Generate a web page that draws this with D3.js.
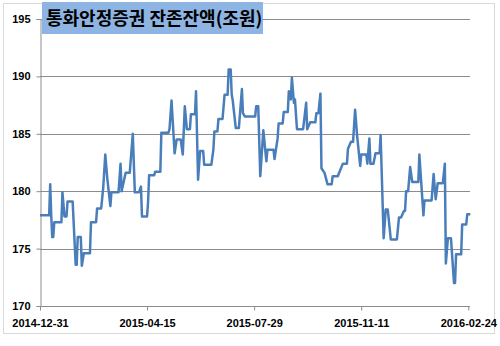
<!DOCTYPE html>
<html>
<head>
<meta charset="utf-8">
<script src="https://cdn.jsdelivr.net/npm/d3@7"></script>
<style>
  body { margin: 0; background: #fff; }
  svg { display: block; }
  .tick text { font-family: "Liberation Sans", Arial, sans-serif; font-weight: bold; font-size: 11px; fill: #000; }
</style>
</head>
<body>
<svg width="500" height="346"></svg>
<script>
// 통화안정증권 잔존잔액(조원) - days since 2014-12-31
const startDate = "2014-12-31";
const days = [0, 9, 10, 11, 12, 13, 14, 21, 22, 24, 26, 27, 32, 35, 36, 37, 40, 41, 43, 49,
    50, 55, 56, 60, 62, 64, 66, 69, 70, 77, 79, 80, 81, 84, 88, 91, 93, 97, 99, 100,
    105, 106, 107, 112, 113, 118, 119, 126, 127, 129, 132, 134, 138, 140, 142, 144, 147, 148, 152, 153,
    155, 157, 160, 161, 168, 170, 171, 174, 175, 179, 181, 184, 185, 187, 188, 189, 192, 195, 198, 199,
    201, 211, 212, 214, 216, 219, 222, 223, 229, 230, 233, 234, 238, 239, 243, 244, 246, 247, 249, 250,
    252, 258, 261, 262, 265, 270, 271, 273, 275, 276, 279, 282, 286, 287, 292, 297, 301, 302, 305, 307,
    309, 311, 314, 315, 320, 321, 323, 324, 327, 329, 333, 334, 337, 339, 341, 344, 350, 352, 354, 357,
    358, 359, 361, 363, 365, 371, 372, 376, 377, 384, 386, 388, 390, 395, 397, 398, 400, 403, 406, 407,
    408, 413, 414, 418, 419, 422];
const balance = [177.9, 177.9, 180.6, 177.9, 176.0, 176.0, 177.3, 177.3, 179.9, 177.8, 177.8, 179.1, 179.1, 173.6, 173.6, 176.0, 176.0, 173.5, 174.6, 174.6,
    177.3, 177.3, 178.5, 178.5, 180.3, 183.2, 181.1, 178.7, 179.9, 179.9, 182.4, 180.0, 180.4, 181.6, 181.6, 185.0, 179.9, 179.9, 180.4, 177.8,
    177.8, 179.1, 181.4, 181.4, 181.7, 181.7, 185.1, 185.1, 185.4, 187.9, 183.3, 184.5, 184.5, 183.2, 187.4, 185.4, 185.4, 186.7, 186.7, 188.7,
    181.0, 183.5, 183.5, 182.3, 182.3, 183.6, 185.2, 185.2, 186.3, 186.3, 188.4, 188.4, 190.6, 190.6, 188.4, 187.9, 185.5, 185.5, 188.9, 186.8,
    186.5, 186.5, 187.4, 187.4, 181.3, 185.3, 182.6, 183.6, 183.6, 182.8, 184.6, 185.9, 185.9, 186.9, 186.9, 188.7, 188.0, 189.9, 187.7, 188.0,
    185.4, 185.4, 187.7, 185.4, 186.0, 186.0, 186.8, 186.8, 188.5, 182.0, 181.6, 180.6, 180.6, 181.3, 181.3, 182.4, 182.4, 183.7, 184.3, 184.3,
    187.1, 184.8, 182.2, 183.2, 183.2, 182.4, 184.6, 182.4, 182.4, 183.3, 183.3, 184.9, 175.9, 178.4, 178.4, 175.8, 175.8, 177.7, 177.7, 178.3,
    178.3, 180.0, 180.0, 182.1, 180.8, 180.8, 183.2, 177.9, 179.2, 179.2, 181.5, 179.3, 180.7, 180.7, 182.4, 173.7, 175.9, 175.9, 172.0, 172.0,
    174.5, 174.5, 177.1, 177.1, 178.0, 178.0];
const yTicks = [170, 175, 180, 185, 190, 195];
const xTickLabels = ["2014-12-31", "2015-04-15", "2015-07-29", "2015-11-11", "2016-02-24"];
const title = "통화안정증권 잔존잔액(조원)";

const svg = d3.select("svg");
const parse = d3.timeParse("%Y-%m-%d");
const t0 = parse(startDate);
const data = days.map(function (d, i) {
    return { date: d3.timeDay.offset(t0, d), value: balance[i] };
});

const plotLeft = 40, plotRight = 468.3, plotTop = 19, plotBottom = 306;

const x = d3.scaleTime()
    .domain([parse(xTickLabels[0]), parse(xTickLabels[xTickLabels.length - 1])])
    .range([plotLeft, plotRight]);
const y = d3.scaleLinear().domain([170, 195]).range([plotBottom, plotTop]);

// chart border
svg.append("rect")
    .attr("x", 3.5).attr("y", 3.5)
    .attr("width", 491).attr("height", 330)
    .attr("fill", "none")
    .attr("stroke", "#d9d9d9");

// gridlines
svg.append("g")
    .selectAll("line")
    .data(yTicks.slice(1))
    .enter().append("line")
    .attr("x1", plotLeft).attr("x2", 470)
    .attr("y1", function (d) { return Math.round(y(d)) + 0.5; })
    .attr("y2", function (d) { return Math.round(y(d)) + 0.5; })
    .attr("stroke", "#8c8c8c");

// y axis
const yAxis = svg.append("g")
    .attr("transform", "translate(" + (plotLeft + 0.5) + ",0)")
    .call(d3.axisLeft(y).tickValues(yTicks).tickSize(4).tickPadding(6));
yAxis.selectAll("path, line").attr("stroke", "#8c8c8c");

// x axis
const xAxis = svg.append("g")
    .attr("transform", "translate(0," + (Math.round(plotBottom) + 0.5) + ")")
    .call(d3.axisBottom(x)
        .tickValues(xTickLabels.map(parse))
        .tickFormat(d3.timeFormat("%Y-%m-%d"))
        .tickSize(4).tickPadding(9)
        .tickSizeOuter(0));
xAxis.select(".domain").attr("d", "M" + plotLeft + ",0H470");
xAxis.selectAll("path, line").attr("stroke", "#8c8c8c");

// series line
svg.append("path")
    .datum(data)
    .attr("fill", "none")
    .attr("stroke", "#4a7ebb")
    .attr("stroke-width", 2.5)
    .attr("stroke-linejoin", "round")
    .attr("d", d3.line()
        .x(function (d) { return x(d.date); })
        .y(function (d) { return y(d.value); }));

// title box
svg.append("rect")
    .attr("x", 42).attr("y", 2)
    .attr("width", 221).attr("height", 32)
    .attr("fill", "#8db4e2");
svg.append("text")
    .attr("x", 46).attr("y", 25)
    .attr("font-family", "'Noto Sans CJK KR', sans-serif")
    .attr("font-weight", "bold")
    .attr("font-size", 18)
    .attr("fill", "#000")
    .text(title);
</script>
</body>
</html>
